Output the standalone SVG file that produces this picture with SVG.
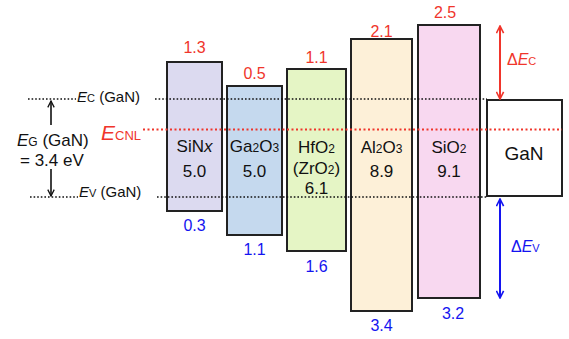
<svg xmlns="http://www.w3.org/2000/svg" width="569" height="339" viewBox="0 0 569 339">
<defs>
<style>
text{font-family:"Liberation Sans",Arial,sans-serif;}
.box{stroke:#222;stroke-width:2;}
.lbl{font-size:17px;fill:#111;text-anchor:middle;}
.gan{font-size:19px;fill:#111;text-anchor:middle;}
.red{font-size:16px;fill:#f0352b;text-anchor:middle;}
.blue{font-size:16px;fill:#1414f0;text-anchor:middle;}
.dotk{stroke:#111;stroke-width:1.6;stroke-dasharray:1.6 2;fill:none;}
.dotr{stroke:#f0352b;stroke-width:2;stroke-dasharray:2 2.5;fill:none;}
.sub{font-size:12px;}
</style>
<marker id="ak" viewBox="0 0 10 10" refX="9" refY="5" markerWidth="8" markerHeight="8" orient="auto-start-reverse" markerUnits="userSpaceOnUse"><path d="M1,1 L9,5 L1,9" fill="none" stroke="#111" stroke-width="1.6"/></marker>
<marker id="ar" viewBox="0 0 10 10" refX="9" refY="5" markerWidth="9" markerHeight="9" orient="auto-start-reverse" markerUnits="userSpaceOnUse"><path d="M1,1 L9,5 L1,9" fill="none" stroke="#f0352b" stroke-width="1.8"/></marker>
<marker id="ab" viewBox="0 0 10 10" refX="9" refY="5" markerWidth="9" markerHeight="9" orient="auto-start-reverse" markerUnits="userSpaceOnUse"><path d="M1,1 L9,5 L1,9" fill="none" stroke="#1414f0" stroke-width="1.8"/></marker>
</defs>
<rect width="569" height="339" fill="#fff"/>
<g id="SiNx">
<rect class="box" x="167" y="62" width="55" height="149" fill="#dcdaf0"/>
<text class="lbl" x="194.5" y="152">SiN<tspan font-style="italic">x</tspan></text>
<text class="lbl" x="194.5" y="177">5.0</text>
<text class="red" x="194.5" y="53">1.3</text>
<text class="blue" x="194.5" y="231">0.3</text>
</g>
<g id="Ga2O3">
<rect class="box" x="227" y="86" width="55" height="149" fill="#c5d9ee"/>
<text class="lbl" x="254.5" y="152">Ga<tspan class="sub">2</tspan>O<tspan class="sub">3</tspan></text>
<text class="lbl" x="254.5" y="177">5.0</text>
<text class="red" x="254.5" y="79">0.5</text>
<text class="blue" x="254.5" y="255">1.1</text>
</g>
<g id="HfO2">
<rect class="box" x="287" y="69" width="59" height="182" fill="#e5f5c5"/>
<text class="lbl" x="316.5" y="153">HfO<tspan class="sub">2</tspan></text>
<text class="lbl" x="316.5" y="174">(ZrO<tspan class="sub">2</tspan>)</text>
<text class="lbl" x="316.5" y="194">6.1</text>
<text class="red" x="316.5" y="63">1.1</text>
<text class="blue" x="316.5" y="272">1.6</text>
</g>
<g id="Al2O3">
<rect class="box" x="351" y="39" width="61" height="272" fill="#fdf0d8"/>
<text class="lbl" x="381.5" y="153">Al<tspan class="sub">2</tspan>O<tspan class="sub">3</tspan></text>
<text class="lbl" x="381.5" y="177">8.9</text>
<text class="red" x="381.5" y="37">2.1</text>
<text class="blue" x="381.5" y="331">3.4</text>
</g>
<g id="SiO2">
<rect class="box" x="418" y="25" width="62" height="273" fill="#f8d8f0"/>
<text class="lbl" x="449" y="153">SiO<tspan class="sub">2</tspan></text>
<text class="lbl" x="449" y="177">9.1</text>
<text class="red" x="445" y="18">2.5</text>
<text class="blue" x="453" y="319">3.2</text>
</g>
<g id="GaN">
<rect class="box" x="487" y="100" width="75" height="96" fill="#fff"/>
<text class="gan" x="524" y="160">GaN</text>
</g>
<g id="connectors">
<path class="dotk" d="M28,99 H76 M155,99 H487"/>
<path class="dotk" d="M30,197 H78 M157,197 H487"/>
<path class="dotr" d="M143,129.5 H562"/>
<line x1="51" y1="125" x2="51" y2="101" stroke="#111" stroke-width="1.6" marker-end="url(#ak)"/>
<line x1="51" y1="169" x2="51" y2="196" stroke="#111" stroke-width="1.6" marker-end="url(#ak)"/>
<line x1="500" y1="26" x2="500" y2="99" stroke="#f0352b" stroke-width="2" marker-start="url(#ar)" marker-end="url(#ar)"/>
<line x1="500" y1="199" x2="500" y2="298" stroke="#1414f0" stroke-width="2" marker-start="url(#ab)" marker-end="url(#ab)"/>
</g>
<g id="labels">
<text x="77" y="102" font-size="15" fill="#111"><tspan font-style="italic">E</tspan><tspan font-size="11">C</tspan> (GaN)</text>
<text x="79" y="197" font-size="15" fill="#111"><tspan font-style="italic">E</tspan><tspan font-size="11">V</tspan> (GaN)</text>
<text x="17" y="146" font-size="17" fill="#111"><tspan font-style="italic">E</tspan><tspan font-size="12">G</tspan> (GaN)</text>
<text x="20" y="166" font-size="17" fill="#111">= 3.4 eV</text>
<text x="101" y="139.5" font-size="21" fill="#f0352b"><tspan font-style="italic">E</tspan><tspan font-size="13">CNL</tspan></text>
<text x="507" y="65" font-size="16" fill="#f0352b">Δ<tspan font-style="italic">E</tspan><tspan font-size="11">C</tspan></text>
<text x="511" y="252" font-size="16" fill="#1414f0">Δ<tspan font-style="italic">E</tspan><tspan font-size="11">V</tspan></text>
</g>
</svg>
